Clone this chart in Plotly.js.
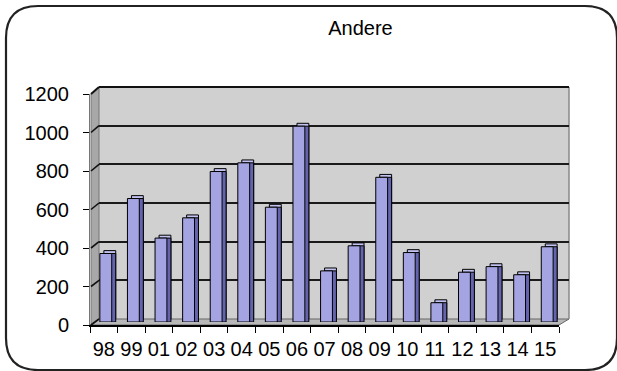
<!DOCTYPE html>
<html>
<head>
<meta charset="utf-8">
<script src="https://cdn.plot.ly/plotly-3.0.1.min.js"></script>
<style>html,body{margin:0;padding:0;background:#fff;}#chart{width:617px;height:371px;}</style>
</head>
<body>
<div id="chart"></div>
<script>
// ---- data ----
const categories = ['98','99','01','02','03','04','05','06','07','08','09','10','11','12','13','14','15'];
const values = [355, 640, 435, 540, 780, 825, 595, 1015, 265, 395, 750, 360, 100, 258, 287, 245, 390];
const yTicks = [0, 200, 400, 600, 800, 1000, 1200];
const chartTitle = 'Andere';

// ---- geometry helpers (pixels -> paper) ----
const W = 617, H = 371;
const px = x => x / W;
const py = y => 1 - y / H;
const FONT = 'Liberation Sans, Arial, sans-serif';
const YMAX = 1200;

// back wall frame, bar (mid-depth) frame, front axis frame (pixel extents)
const back  = {x0: 99, x1: 569, yb: 319, yt: 87};
const mid   = {x0: 92, x1: 561, yb: 322, yt: 90.5};
const front = {x0: 90, x1: 559, yb: 325, yt: 94};

const frontY = v => front.yb - v / YMAX * (front.yb - front.yt);
const backY  = v => back.yb  - v / YMAX * (back.yb  - back.yt);

const BAR_W = 0.43, DEPTH_OFF = -0.07, DEPTH_BASE = 15;

const traces = [
  { // empty carrier so that the back-wall subplot (gridlines) exists
    type: 'scatter', mode: 'markers', x: [], y: [], xaxis: 'x', yaxis: 'y',
    hoverinfo: 'skip', showlegend: false
  },
  { // top face of the columns (back, raised)
    type: 'bar', x: categories, y: values, base: DEPTH_BASE,
    xaxis: 'x2', yaxis: 'y2', width: BAR_W, offset: DEPTH_OFF,
    marker: {color: '#c2c2f0', line: {color: '#000', width: 1}},
    hoverinfo: 'skip', showlegend: false
  },
  { // right side face of the columns
    type: 'bar', x: categories, y: values,
    xaxis: 'x2', yaxis: 'y2', width: BAR_W, offset: DEPTH_OFF,
    marker: {color: '#6464ae', line: {color: '#000', width: 1}},
    hoverinfo: 'skip', showlegend: false
  },
  { // front face of the columns
    type: 'bar', x: categories, y: values,
    xaxis: 'x2', yaxis: 'y2', width: BAR_W,
    marker: {color: '#a4a4e2', line: {color: '#000', width: 1}},
    showlegend: false
  },
  { // invisible carrier for the front category axis
    type: 'scatter', mode: 'markers', x: categories, y: values,
    xaxis: 'x3', yaxis: 'y3', marker: {opacity: 0}, hoverinfo: 'skip', showlegend: false
  }
];

function poly(pts) {
  return 'M ' + pts.map(p => px(p[0]) + ',' + py(p[1])).join(' L ') + ' Z';
}
function rrect(x0, y0, x1, y1, r) {
  return 'M ' + px(x0 + r) + ',' + py(y0) +
    ' L ' + px(x1 - r) + ',' + py(y0) +
    ' Q ' + px(x1) + ',' + py(y0) + ' ' + px(x1) + ',' + py(y0 + r) +
    ' L ' + px(x1) + ',' + py(y1 - r) +
    ' Q ' + px(x1) + ',' + py(y1) + ' ' + px(x1 - r) + ',' + py(y1) +
    ' L ' + px(x0 + r) + ',' + py(y1) +
    ' Q ' + px(x0) + ',' + py(y1) + ' ' + px(x0) + ',' + py(y1 - r) +
    ' L ' + px(x0) + ',' + py(y0 + r) +
    ' Q ' + px(x0) + ',' + py(y0) + ' ' + px(x0 + r) + ',' + py(y0) + ' Z';
}

const shapes = [
  // back wall
  {type: 'path', xref: 'paper', yref: 'paper', layer: 'below',
   path: poly([[back.x0, back.yt], [back.x1, back.yt], [back.x1, back.yb], [back.x0, back.yb]]),
   fillcolor: '#d0d0d0', line: {width: 0}},
  // left side wall
  {type: 'path', xref: 'paper', yref: 'paper', layer: 'below',
   path: poly([[front.x0 + 1, front.yt], [back.x0, back.yt], [back.x0, back.yb], [front.x0 + 1, front.yb]]),
   fillcolor: '#a8a8a8', line: {color: '#777', width: 1}},
  // floor
  {type: 'path', xref: 'paper', yref: 'paper', layer: 'below',
   path: poly([[front.x0, front.yb], [front.x1, front.yb], [back.x1, back.yb], [back.x0, back.yb]]),
   fillcolor: '#b8b8b8', line: {color: '#666', width: 1}},
  // wall right edge
  {type: 'line', xref: 'paper', yref: 'paper', layer: 'below',
   x0: px(back.x1), x1: px(back.x1), y0: py(back.yt), y1: py(back.yb),
   line: {color: '#888', width: 1.5}},
  // outer rounded frame
  {type: 'path', xref: 'paper', yref: 'paper', layer: 'above',
   path: rrect(6, 6, 617, 370, 32), line: {color: '#222', width: 2.2}}
];
// side-wall continuations of the gridlines
yTicks.forEach(v => {
  shapes.push({type: 'line', xref: 'paper', yref: 'paper', layer: 'below',
    x0: px(front.x0 + 1), y0: py(frontY(v)), x1: px(back.x0), y1: py(backY(v)),
    line: {color: '#111', width: v === YMAX ? 2 : 1.6}});
});
// top edge of the wall
shapes.push({type: 'line', xref: 'paper', yref: 'paper', layer: 'below',
  x0: px(back.x0), x1: px(back.x1), y0: py(back.yt), y1: py(back.yt),
  line: {color: '#111', width: 2}});

const axBase = {fixedrange: true, zeroline: false, showline: false};

const layout = {
  width: W, height: H,
  margin: {l: 0, r: 0, t: 0, b: 0, pad: 0},
  paper_bgcolor: '#ffffff',
  plot_bgcolor: 'rgba(0,0,0,0)',
  barmode: 'overlay',
  showlegend: false,
  font: {family: FONT, size: 20, color: '#000'},
  title: {text: chartTitle, font: {family: FONT, size: 20, color: '#000'},
          x: px(360.5), xanchor: 'center', xref: 'paper',
          y: py(28), yanchor: 'middle', yref: 'container'},
  // back wall axes (gridlines)
  xaxis: Object.assign({}, axBase, {domain: [px(back.x0), px(back.x1)], range: [0, 1],
          showgrid: false, showticklabels: false, ticks: '', anchor: 'y'}),
  yaxis: Object.assign({}, axBase, {domain: [py(back.yb), py(back.yt)], range: [0, YMAX],
          tickvals: yTicks, showgrid: true, gridcolor: '#1a1a1a', gridwidth: 2,
          showticklabels: false, ticks: '', anchor: 'x'}),
  // bar axes (mid depth)
  xaxis2: Object.assign({}, axBase, {domain: [px(mid.x0), px(mid.x1)], type: 'category',
          categoryorder: 'array', categoryarray: categories, range: [-0.5, categories.length - 0.5],
          showgrid: false, showticklabels: false, ticks: '', anchor: 'y2'}),
  yaxis2: Object.assign({}, axBase, {domain: [py(mid.yb), py(mid.yt)], range: [0, YMAX],
          showgrid: false, showticklabels: false, ticks: '', anchor: 'x2'}),
  // front axes (ticks and labels)
  xaxis3: Object.assign({}, axBase, {domain: [px(front.x0), px(front.x1)], type: 'category',
          categoryorder: 'array', categoryarray: categories, range: [-0.5, categories.length - 0.5],
          showgrid: false, showline: true, linecolor: '#000', linewidth: 1.5,
          ticks: 'outside', tickson: 'boundaries', ticklen: 6, tickcolor: '#000', tickwidth: 1,
          tickangle: 0, tickfont: {family: FONT, size: 20, color: '#000'}, ticklabelstandoff: 5, anchor: 'y3'}),
  yaxis3: Object.assign({}, axBase, {domain: [py(front.yb), py(front.yt)], range: [0, YMAX],
          tickvals: yTicks, showgrid: false, showline: true, linecolor: '#777', linewidth: 1,
          ticks: 'outside', ticklen: 6, tickcolor: '#000', tickwidth: 1,
          tickfont: {family: FONT, size: 20, color: '#000'}, ticklabelstandoff: 10, anchor: 'x3'}),
  shapes: shapes
};

Plotly.newPlot('chart', traces, layout, {displayModeBar: false, staticPlot: true});
</script>
</body>
</html>
